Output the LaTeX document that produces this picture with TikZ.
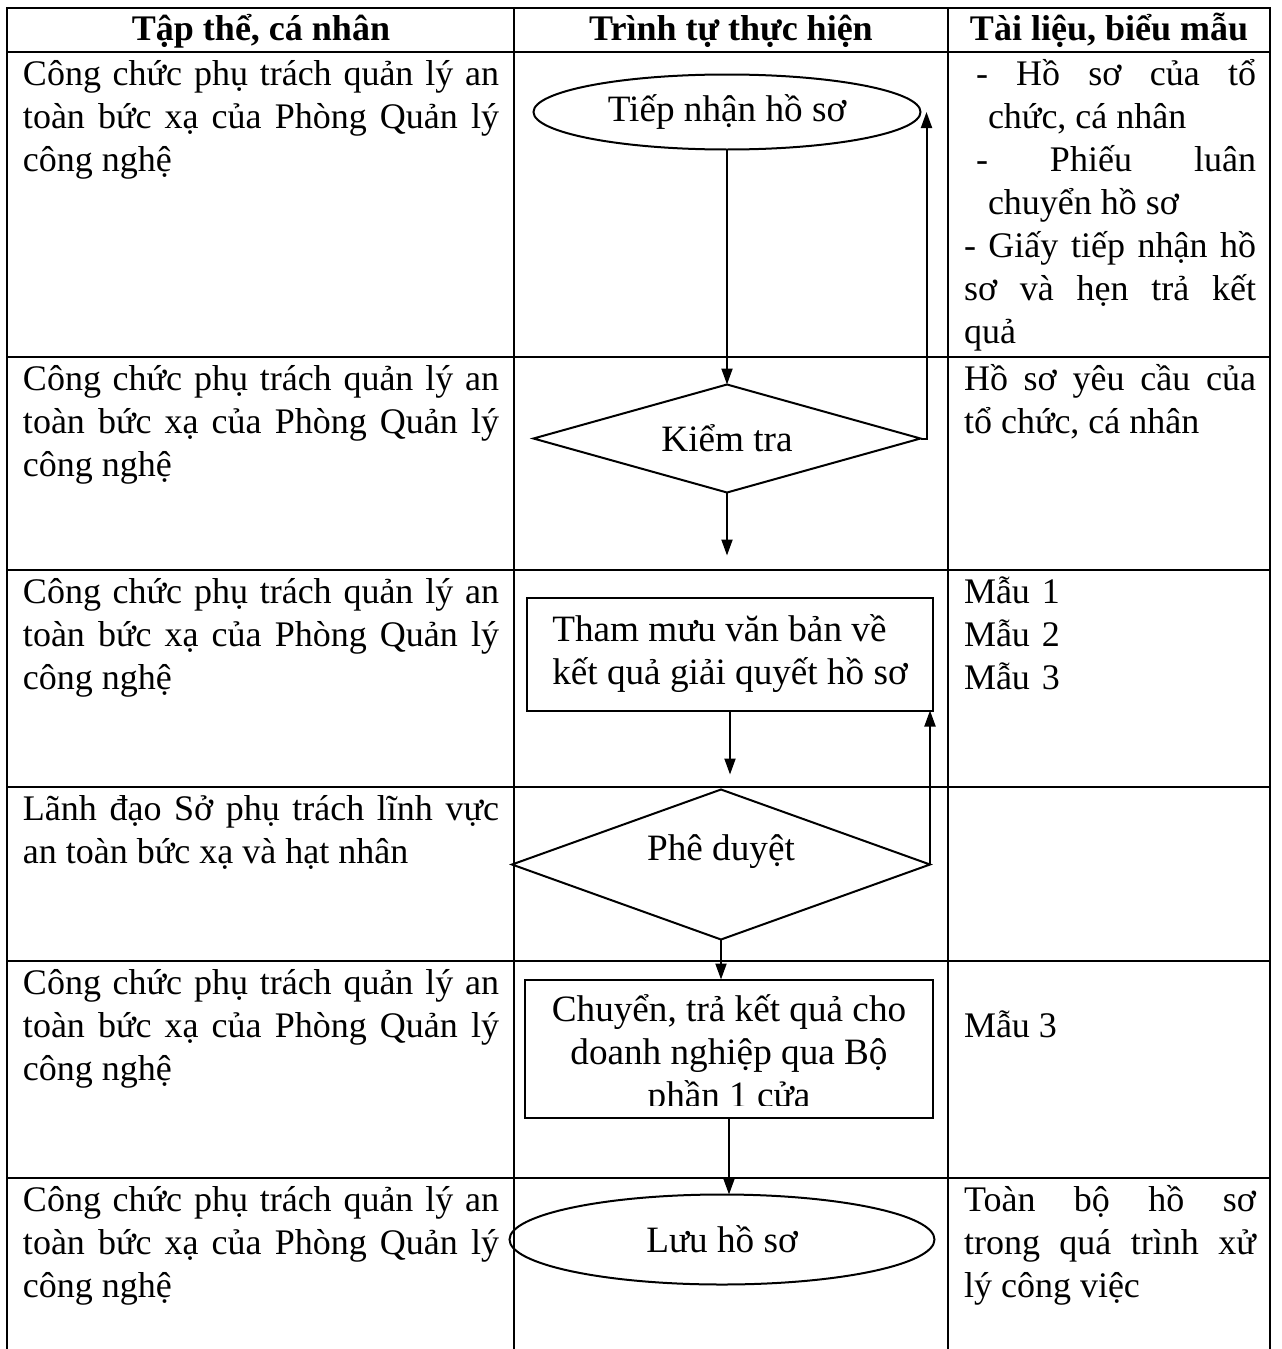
\documentclass[tikz,border=0pt]{standalone}
\usepackage{fontspec}
\setmainfont{Liberation Serif}
\usetikzlibrary{arrows.meta,shapes.geometric,positioning}

\newcommand{\canbo}{\strut Công chức phụ trách quản lý an\linebreak
  toàn bức xạ của Phòng Quản lý\linebreak công nghệ}

\begin{document}
\begin{tikzpicture}[
    x = 0.5pt, y = -0.5pt, % one unit = one pixel of the scan
    > = {Triangle[length=8pt,width=5.5pt]}, % arrow head style
    font = {\fontsize{18pt}{21.5pt}\selectfont\parindent=0pt},
    line width = 1pt
    ]

    \tikzset{
    grid/.style = {line width=1.2pt},
    head/.style = {anchor=base, inner sep=0pt,
      font={\fontsize{18pt}{21.5pt}\selectfont\bfseries}},
    cell/.style = {anchor=north west, inner sep=0pt, text width=238pt, align=justify},
    doc/.style = {anchor=north west, inner sep=0pt, text width=146pt, align=justify},
    flow/.style = {draw, outer sep=0pt,
      font={\fontsize{18.6pt}{21.5pt}\selectfont\parindent=0pt}},
    terminal/.style = {flow, ellipse, inner sep=0pt},
    decision/.style = {flow, diamond, inner sep=0pt, aspect=3},
    process/.style = {flow, rectangle}
    }

    \useasboundingbox (0,0) rectangle (1281,1349);

    % table
    \draw[grid] (7,1349) -- (7,8) -- (1270,8) -- (1270,1349);
    \draw[grid] (514,8) -- (514,1349);
    \draw[grid] (948,8) -- (948,1349);
    \draw[grid] (7,52) -- (1270,52);
    \draw[grid] (7,357) -- (1270,357);
    \draw[grid] (7,570) -- (1270,570);
    \draw[grid] (7,787) -- (1270,787);
    \draw[grid] (7,961) -- (1270,961);
    \draw[grid] (7,1178) -- (1270,1178);

    \node[head] (h1) at (261,40) {Tập thể, cá nhân};
    \node[head] (h2) at (731,40) {Trình tự thực hiện};
    \node[head] (h3) at (1109,40) {Tài liệu, biểu mẫu};

    % who does it
    \node[cell] (who1) at (22,54) {\canbo};
    \node[cell] (who2) at (22,359) {\canbo};
    \node[cell] (who3) at (22,572) {\canbo};
    \node[cell] (who4) at (22,789) {\strut Lãnh đạo Sở phụ trách lĩnh vực\linebreak
      an toàn bức xạ và hạt nhân};
    \node[cell] (who5) at (22,963) {\canbo};
    \node[cell] (who6) at (22,1180) {\canbo};

    % papers
    \node[doc] (doc1) at (963,54) {%
      {\leftskip=12pt\strut\hspace*{-6pt}- Hồ sơ của tổ\linebreak chức, cá nhân\par}
      {\leftskip=12pt\strut\hspace*{-6pt}- Phiếu luân\linebreak chuyển hồ sơ\par}
      \strut- Giấy tiếp nhận hồ\linebreak sơ và hẹn trả kết\linebreak quả};
    \node[doc] (doc2) at (963,359) {\strut Hồ sơ yêu cầu của\linebreak tổ chức, cá nhân};
    \node[doc, align=left] (doc3) at (963,572) {\strut Mẫu 1\\Mẫu 2\\Mẫu 3};
    \node[doc] (doc5) at (963,1006) {\strut Mẫu 3};
    \node[doc] (doc6) at (963,1180) {\strut Toàn bộ hồ sơ\linebreak trong quá trình xử\linebreak
      lý công việc};

    % steps
    \node[terminal, minimum width=193.5pt, minimum height=37.5pt] (tiepnhan) at (727,112)
      {Tiếp nhận hồ sơ};
    \node[decision, minimum width=193.5pt, minimum height=54pt] (kiemtra)
      [below=117.5pt of tiepnhan] {Kiểm tra};
    \coordinate[below=31.5pt of kiemtra.south] (kiemtraout);
    \node[process, minimum width=203pt, minimum height=56.5pt, align=left] (thammuu)
      [below=52.5pt of kiemtra, xshift=1.5pt]
      {Tham mưu văn bản về\\kết quả giải quyết hồ sơ};
    \coordinate[below=32pt of thammuu.south] (thammuuout);
    \node[decision, minimum width=209pt, minimum height=75pt] (pheduyet)
      [below=39.5pt of thammuu, xshift=-4.5pt] {\raisebox{6.5pt}[\height][\depth]{Phê duyệt}};
    \node[process, minimum width=204pt, minimum height=69pt] (chuyen)
      [below=20pt of pheduyet, xshift=4pt] {};
    \begin{scope}
      \clip ([xshift=1pt,yshift=-1pt]chuyen.north west) rectangle ([yshift=6pt]chuyen.south east);
      \node[flow, draw=none, align=center, anchor=north, inner sep=0pt] (chuyentext)
        at ([yshift=-6pt]chuyen.north)
        {\strut Chuyển, trả kết quả cho\\doanh nghiệp qua Bộ\\phần 1 cửa};
    \end{scope}
    \node[terminal, minimum width=212.5pt, minimum height=45pt] (luu)
      [below=38.5pt of chuyen, xshift=-3.5pt] {Lưu hồ sơ};

    \path[->] (tiepnhan) edge (kiemtra);
    \draw[->] (kiemtra.east) -- ++(3pt,0) -- ([xshift=3pt]tiepnhan.east);
    \draw[->] (kiemtra.south) -- (kiemtraout);
    \draw[->] (thammuu.south) -- (thammuuout);
    \draw[->] (pheduyet.east) -- (pheduyet.east |- thammuu.south);
    \draw[->] (pheduyet.south) -- (pheduyet.south |- chuyen.north);
    \draw[->] (chuyen.south) -- (chuyen.south |- luu.north);
\end{tikzpicture}
\end{document}
